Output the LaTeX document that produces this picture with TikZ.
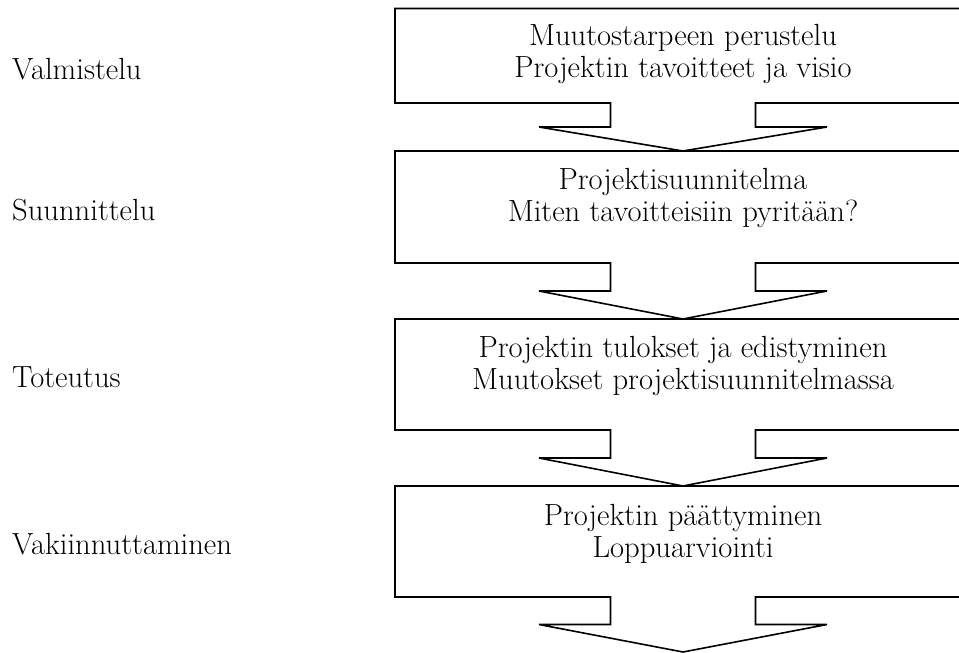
\documentclass[tikz,border=0pt]{standalone}
\begin{document}
\begin{tikzpicture}[x=1pt,y=-1pt,
  outline/.style={draw=black,line width=1.6pt,line join=miter,fill=white},
  stagetext/.style={align=center,inner sep=0pt,font=\fontsize{30.6}{32.5}\selectfont},
  phasetext/.style={anchor=west,inner sep=0pt,font=\fontsize{30.6}{32.5}\selectfont}]
  \useasboundingbox (0,0) rectangle (959,653);
  \clip (0,0) rectangle (959,653);
  % box outlines with the arrow tail below each box: top, bottom, stem, head
  \foreach \t/\b/\s/\h in {8.5/103/24/24, 151/263/28/28, 319/430/28/28, 486/597/27.5/27.5}{
    \draw[outline] (395,\t) -- (975,\t) -- (975,\b) -- (755.5,\b) -- (755.5,\b+\s)
      -- (827,\b+\s) -- (683,\b+\s+\h) -- (539,\b+\s) -- (610.5,\b+\s)
      -- (610.5,\b) -- (395,\b) -- cycle;
  }
  % stage contents
  \node[stagetext] (s1) at (683,54) {Muutostarpeen perustelu\\Projektin tavoitteet ja visio};
  \node[stagetext] (s2) at (683,198) {Projektisuunnitelma\\Miten tavoitteisiin pyritään?};
  \node[stagetext] (s3) at (683,366) {Projektin tulokset ja edistyminen\\Muutokset projektisuunnitelmassa};
  \node[stagetext] (s4) at (683,534) {Projektin päättyminen\\Loppuarviointi};
  % phase names
  \node[phasetext] (p1) at (12,69) {Valmistelu};
  \node[phasetext] (p2) at (12,210) {Suunnittelu};
  \node[phasetext] (p3) at (12,377) {Toteutus};
  \node[phasetext] (p4) at (12,544) {Vakiinnuttaminen};
\end{tikzpicture}
\end{document}
